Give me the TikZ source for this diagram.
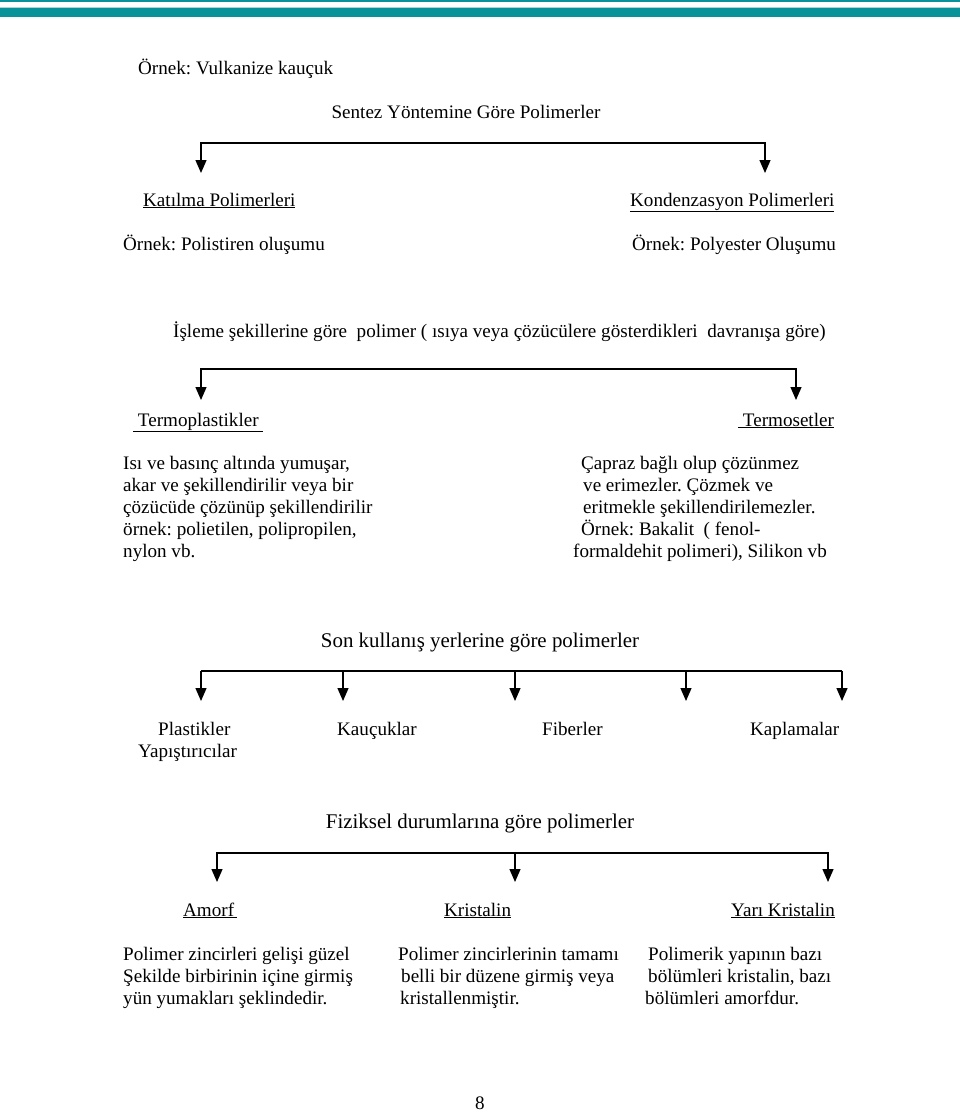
\documentclass[tikz,border=0pt]{standalone}
\usepackage{fontspec}
\setmainfont{Liberation Serif}
\frenchspacing
\usetikzlibrary{arrows.meta}
\definecolor{bandteal}{HTML}{08939A}
\definecolor{bandpale}{HTML}{A9D6D8}
\tikzset{
  txt/.style={anchor=base west,inner sep=0pt,font=\fontsize{19.1}{22}\selectfont},
  head/.style={txt,anchor=base},
  bighead/.style={head,font=\fontsize{20.9}{24}\selectfont},
  block/.style={txt,align=left},% base = last line
  bar/.style={line width=1.3pt},
  branch/.style={bar,-{Triangle[width=11pt,length=13pt]}},
  fork/.style={bar,{Triangle[width=11pt,length=13pt]}-{Triangle[width=11pt,length=13pt]}},
}
\begin{document}
\begin{tikzpicture}[x=1pt,y=-1pt]
\useasboundingbox (0,0) rectangle (960,1112);
% --- top band
\fill[bandteal] (0,0) rectangle (960,1.8);
\fill[bandpale] (0,6.5) rectangle (960,7.8);
\fill[bandteal] (0,7.8) rectangle (960,16.8);

\node[txt] (vulk) at (138,74) {Örnek: Vulkanize kauçuk};

% ---- sentez yontemine gore
\node[head] (sentez) at (466,118) {Sentez Yöntemine Göre Polimerler};
\coordinate (s1) at (201,143); \coordinate (s2) at (765,143);
\coordinate (t1) at (201,173); \coordinate (t2) at (765,173);
\draw[fork] (t1) -- (s1) -- (s2) -- (t2);
\node[txt] (katilma) at (143,206) {\underline{Katılma Polimerleri}};
\node[txt] (konden) at (630,206) {\underline{Kondenzasyon Polimerleri}};
\node[txt] (ornA) at (123,250) {Örnek: Polistiren oluşumu};
\node[txt] (ornB) at (632,250) {Örnek: Polyester Oluşumu};

% ---- isleme sekillerine gore
\node[txt] (isleme) at (173,337) {İşleme şekillerine göre\ \ polimer ( ısıya veya çözücülere gösterdikleri\ \ davranışa göre)};
\coordinate (i1) at (201,369); \coordinate (i2) at (796,369);
\coordinate (j1) at (201,400); \coordinate (j2) at (796,400);
\draw[fork] (j1) -- (i1) -- (i2) -- (j2);
\node[txt] (tplast) at (133,426) {\underline{\ Termoplastikler\ }};
\node[txt] (tset) at (738,426) {\underline{\ Termosetler}};
\node[block] (tplastA) at (123,557) {Isı ve basınç altında yumuşar,\\
akar ve şekillendirilir veya bir\\
çözücüde çözünüp şekillendirilir\\
örnek: polietilen, polipropilen,\\
nylon vb.};
\node[block] (tsetA) at (573,557) {\hspace*{8pt}Çapraz bağlı olup çözünmez\\
\hspace*{10pt}ve erimezler. Çözmek ve\\
\hspace*{10pt}eritmekle şekillendirilemezler.\\
\hspace*{8pt}Örnek: Bakalit\ \ ( fenol-\\
formaldehit polimeri), Silikon vb};

% ---- son kullanis yerlerine gore
\node[bighead] (son) at (480,647) {Son kullanış yerlerine göre polimerler};
\coordinate (u0) at (201,671); \coordinate (u9) at (842,671);
\draw[bar] (u0) -- (u9);
\foreach \n/\x in {1/201,2/343,3/515,4/686,5/842}{
\coordinate (u\n) at (\x,671); \coordinate (d\n) at (\x,701);
\draw[branch] (u\n) -- (d\n);
}
\node[txt] (plast) at (158,735) {Plastikler};
\node[txt] (yapis) at (138,757) {Yapıştırıcılar};
\node[txt] (kauc) at (337,735) {Kauçuklar};
\node[txt] (fiber) at (542,735) {Fiberler};
\node[txt] (kapla) at (750,735) {Kaplamalar};

% ---- fiziksel durumlarina gore
\node[bighead] (fizik) at (480,828) {Fiziksel durumlarına göre polimerler};
\coordinate (f1) at (217,853); \coordinate (f2) at (828,853);
\coordinate (g1) at (217,882); \coordinate (g2) at (828,882);
\coordinate (f3) at (515,853); \coordinate (g3) at (515,882);
\draw[fork] (g1) -- (f1) -- (f2) -- (g2);
\draw[branch] (f3) -- (g3);
\node[txt] (amorf) at (183,916) {\underline{Amorf\,}};
\node[txt] (krist) at (444,916) {\underline{Kristalin}};
\node[txt] (yari) at (731,916) {\underline{Yarı Kristalin}};
\node[block] (amorfA) at (123,1004) {Polimer zincirleri gelişi güzel\\
Şekilde birbirinin içine girmiş\\
yün yumakları şeklindedir.};
\node[block] (kristA) at (398,1004) {Polimer zincirlerinin tamamı\\
\hspace*{3pt}belli bir düzene girmiş veya\\
\hspace*{2pt}kristallenmiştir.};
\node[block] (yariA) at (645,1004) {\hspace*{3pt}Polimerik yapının bazı\\
\hspace*{3pt}bölümleri kristalin, bazı\\
bölümleri amorfdur.};

\node[head] (sayfa) at (480,1109) {8};
\end{tikzpicture}
\end{document}
